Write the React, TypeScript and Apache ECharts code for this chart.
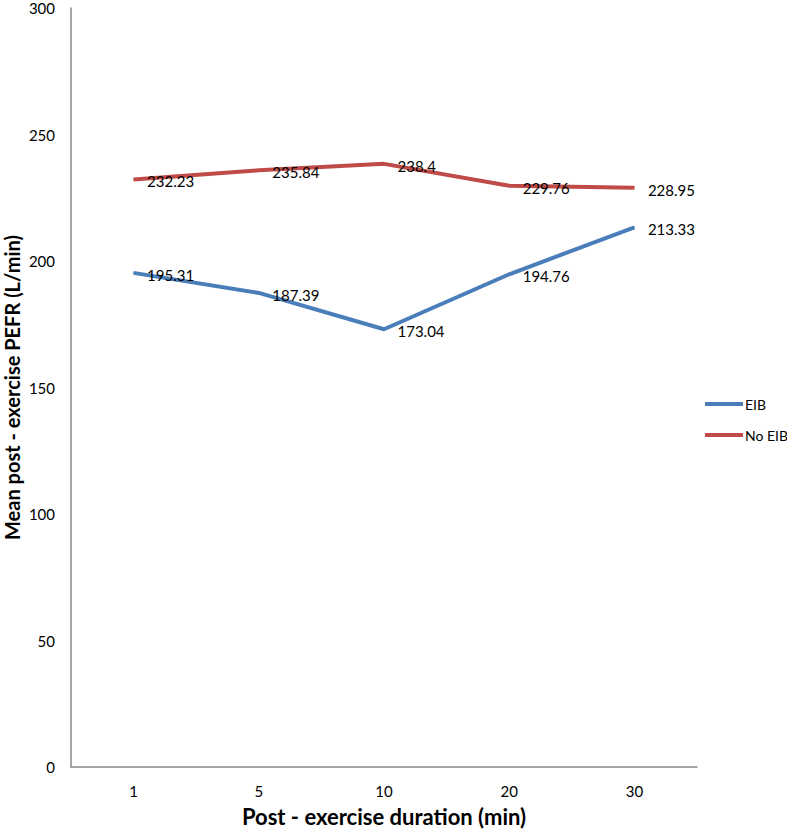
import React, { useEffect, useRef } from "react";
import * as echarts from "echarts";

const categories = ["1", "5", "10", "20", "30"];
const eibValues = [195.31, 187.39, 173.04, 194.76, 213.33];
const noEibValues = [232.23, 235.84, 238.4, 229.76, 228.95];
const seriesNames = ["EIB", "No EIB"];

const FONT = "Lato";

export default function App() {
  const ref = useRef<HTMLDivElement>(null);
  useEffect(() => {
    if (!ref.current) return;
    const chart = echarts.init(ref.current, null, { renderer: "svg" });
    const label = {
      show: true,
      position: "right" as const,
      distance: 13,
      offset: [0, 2],
      color: "#000",
      fontSize: 15,
      fontFamily: FONT,
    };
    chart.setOption({
      animation: false,
      backgroundColor: "#fff",
      grid: { left: 71, right: 90, top: 8, bottom: 65, outerBoundsMode: "none", containLabel: false },
      legend: {
        orient: "vertical",
        left: 700,
        top: 392,
        itemWidth: 38,
        itemHeight: 4,
        itemGap: 17,
        icon: "rect",
        textStyle: { fontFamily: FONT, fontSize: 14, color: "#000", padding: [0, 0, 0, -3] },
        data: seriesNames,
      },
      xAxis: {
        type: "category",
        data: categories,
        boundaryGap: true,
        axisLine: { lineStyle: { color: "#898989", width: 1.5 } },
        axisTick: { show: false },
        axisLabel: { color: "#000", fontSize: 15, fontFamily: FONT, margin: 16 },
        name: "Post - exercise duration (min)",
        nameLocation: "middle",
        nameGap: 38,
        nameMoveOverlap: false,
        nameTextStyle: { color: "#000", fontSize: 22, fontWeight: "bold", fontFamily: FONT },
      },
      yAxis: {
        type: "value",
        min: 0,
        max: 300,
        interval: 50,
        splitLine: { show: false },
        axisLine: { show: true, lineStyle: { color: "#898989", width: 1.5 } },
        axisTick: { show: false },
        axisLabel: { color: "#000", fontSize: 15, fontFamily: FONT, margin: 16 },
        name: "Mean post - exercise PEFR (L/min)",
        nameLocation: "middle",
        nameGap: 49,
        nameMoveOverlap: false,
        nameTextStyle: {
          color: "#000",
          fontSize: 20,
          fontWeight: "bold",
          fontFamily: FONT,
        },
      },
      series: [
        {
          name: seriesNames[0],
          type: "line",
          data: eibValues,
          symbol: "circle",
          symbolSize: 1,
          color: "#4A7EBB",
          lineStyle: { width: 4, color: "#4A7EBB" },
          label,
        },
        {
          name: seriesNames[1],
          type: "line",
          data: noEibValues,
          symbol: "circle",
          symbolSize: 1,
          color: "#BE4B48",
          lineStyle: { width: 4, color: "#BE4B48" },
          label,
        },
      ],
    });
    return () => chart.dispose();
  }, []);
  return (
    <div
      ref={ref}
      style={{ position: "fixed", left: 0, top: 0, width: 787, height: 832, background: "#fff" }}
    />
  );
}
